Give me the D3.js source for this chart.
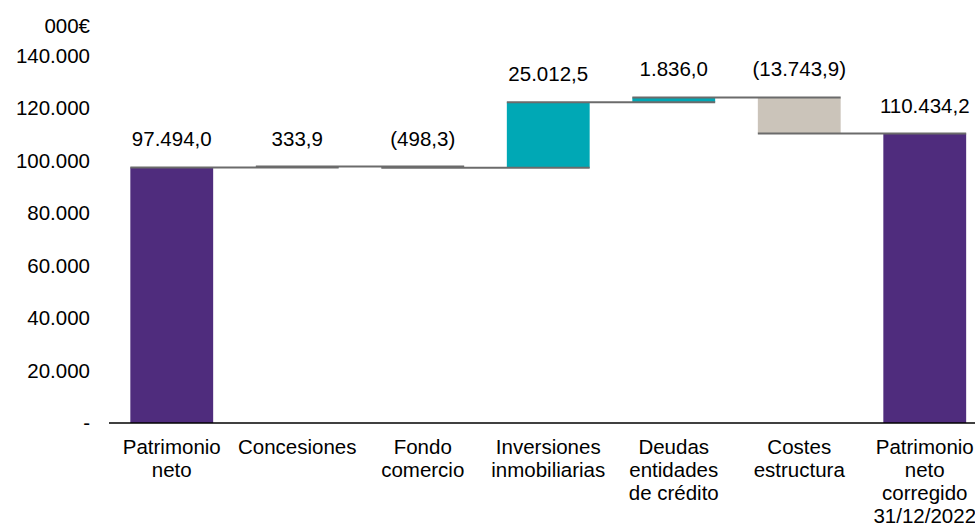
<!DOCTYPE html>
<html>
<head>
<meta charset="utf-8">
<script src="https://cdn.jsdelivr.net/npm/d3@7"></script>
<style>
  html, body { margin: 0; padding: 0; background: #fff; }
  svg { display: block; font-family: "Liberation Sans", Arial, sans-serif; }
</style>
</head>
<body>
<svg id="chart" width="975" height="529"></svg>
<script>
// Bridge of net equity (thousands of euros)
const categories = [
  "Patrimonio\nneto",
  "Concesiones",
  "Fondo\ncomercio",
  "Inversiones\ninmobiliarias",
  "Deudas\nentidades\nde crédito",
  "Costes\nestructura",
  "Patrimonio\nneto\ncorregido\n31/12/2022"
];
const values = [97494.0, 333.9, -498.3, 25012.5, 1836.0, -13743.9, 110434.2];
const kinds = ["total", "delta", "delta", "delta", "delta", "delta", "total"];
const yTicks = [0, 20000, 40000, 60000, 80000, 100000, 120000, 140000];
const unitLabel = "000€";

// layout settings
const W = 975, H = 529;
const plot = { left: 109, right: 987.5, top: 56, bottom: 423 };
const fontSize = 20.5;
const labelLift = 21;
const colors = { total: "#4f2c7d", up: "#00a8b5", down: "#cbc4ba", connector: "#6b6b6b" };

const locale = d3.formatLocale({ decimal: ",", thousands: ".", grouping: [3], currency: ["", "€"] });
const fmtVal = locale.format(",.1f");
const fmtTick = locale.format(",.0f");

// running totals
const bars = [];
let running = 0;
values.forEach((v, i) => {
  let start, end;
  if (kinds[i] === "total") { start = 0; end = v; }
  else { start = running; end = running + v; }
  running = end;
  bars.push({ i, cat: categories[i], value: v, kind: kinds[i], start, end,
    color: kinds[i] === "total" ? colors.total : (v >= 0 ? colors.up : colors.down) });
});

const svg = d3.select("#chart");

const x = d3.scaleBand()
  .domain(categories)
  .range([plot.left, plot.right])
  .paddingInner(0.34)
  .paddingOuter(0.17);

const y = d3.scaleLinear()
  .domain([0, 140000])
  .range([plot.bottom, plot.top]);

// y axis labels (no line, no ticks)
const yAxis = d3.axisLeft(y)
  .tickValues(yTicks)
  .tickSize(0)
  .tickPadding(0)
  .tickFormat(d => d === 0 ? "-" : fmtTick(d));

svg.append("g")
  .attr("transform", `translate(${plot.left - 19},0)`)
  .call(yAxis)
  .call(g => g.select(".domain").remove())
  .call(g => g.selectAll("text")
    .attr("font-size", fontSize)
    .attr("font-family", "'Liberation Sans', Arial, sans-serif")
    .attr("fill", "#000"));

// unit label
svg.append("text")
  .attr("x", plot.left - 19)
  .attr("y", 33)
  .attr("text-anchor", "end")
  .attr("font-size", fontSize)
  .attr("fill", "#000")
  .text(unitLabel);

// bars
svg.append("g")
  .selectAll("rect")
  .data(bars)
  .join("rect")
  .attr("x", d => x(d.cat))
  .attr("width", x.bandwidth())
  .attr("y", d => y(Math.max(d.start, d.end)))
  .attr("height", d => Math.abs(y(d.start) - y(d.end)))
  .attr("fill", d => d.color);

// connectors: level of each running total, from this bar to the next
const links = bars.slice(0, -1).map((d, k) => ({
  level: d.end, x1: x(d.cat), x2: x(bars[k + 1].cat) + x.bandwidth()
}));
svg.append("g")
  .selectAll("line")
  .data(links)
  .join("line")
  .attr("x1", d => d.x1)
  .attr("x2", d => d.x2)
  .attr("y1", d => y(d.level))
  .attr("y2", d => y(d.level))
  .attr("stroke", colors.connector)
  .attr("stroke-width", 2);

// baseline
svg.append("line")
  .attr("x1", plot.left)
  .attr("x2", W)
  .attr("y1", y(0))
  .attr("y2", y(0))
  .attr("stroke", "#000")
  .attr("stroke-width", 1.5);

// value labels
svg.append("g")
  .selectAll("text")
  .data(bars)
  .join("text")
  .attr("x", d => x(d.cat) + x.bandwidth() / 2)
  .attr("y", d => y(Math.max(d.start, d.end)) - labelLift)
  .attr("text-anchor", "middle")
  .attr("font-size", fontSize)
  .attr("fill", "#000")
  .text(d => d.value < 0 ? `(${fmtVal(-d.value)})` : fmtVal(d.value));

// category labels
const catG = svg.append("g")
  .selectAll("text")
  .data(bars)
  .join("text")
  .attr("x", d => x(d.cat) + x.bandwidth() / 2)
  .attr("y", 454)
  .attr("text-anchor", "middle")
  .attr("font-size", fontSize)
  .attr("fill", "#000");
catG.selectAll("tspan")
  .data(d => d.cat.split("\n").map(t => ({ t, cx: x(d.cat) + x.bandwidth() / 2 })))
  .join("tspan")
  .attr("x", d => d.cx)
  .attr("dy", (d, j) => j === 0 ? 0 : 23)
  .text(d => d.t);
</script>
</body>
</html>
